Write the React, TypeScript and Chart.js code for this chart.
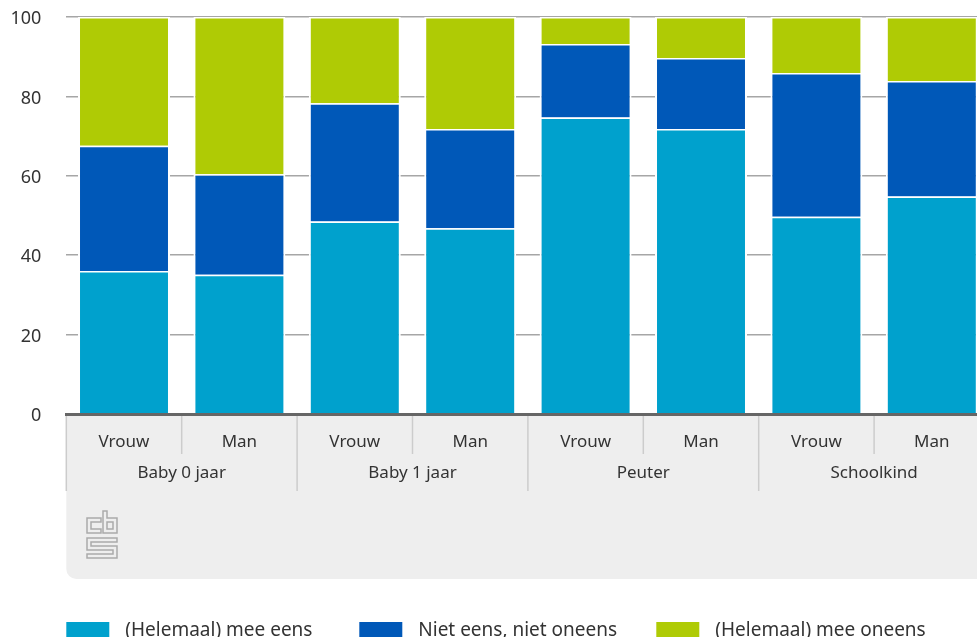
import React, { useEffect, useRef } from "react";
import { Chart, registerables } from "chart.js";

Chart.register(...registerables);

const subCategories = ["Vrouw", "Man", "Vrouw", "Man", "Vrouw", "Man", "Vrouw", "Man"];
const groups = ["Baby 0 jaar", "Baby 1 jaar", "Peuter", "Schoolkind"];
const eens = [36.0, 35.1, 48.5, 46.8, 74.7, 71.8, 49.7, 54.8];
const neutraal = [31.6, 25.3, 29.8, 25.0, 18.5, 17.9, 36.2, 29.1];
const oneens = [32.4, 39.6, 21.7, 28.2, 6.8, 10.3, 14.1, 16.1];
const seriesNames = ["(Helemaal) mee eens", "Niet eens, niet oneens", "(Helemaal) mee oneens"];
const seriesColors = ["#00a1cd", "#0058b8", "#afcb05"];
const yTicks = [0, 20, 40, 60, 80, 100];
const legendOffsets = [0, 293, 590];

const FONT = "'Noto Sans', sans-serif";
const TEXT = "#333333";

const backdrop = {
  id: "backdrop",
  beforeDraw(chart: any) {
    const { ctx, chartArea, scales } = chart;
    const x = scales.x;
    const left = chartArea.left;
    const top = chartArea.bottom + 2;
    const half = (x.getPixelForValue(1) - x.getPixelForValue(0)) / 2;
    ctx.save();
    ctx.fillStyle = "#eeeeee";
    ctx.beginPath();
    ctx.roundRect(left, top, chart.width - left + 20, 163, [0, 0, 0, 10]);
    ctx.fill();
    ctx.strokeStyle = "#cccccc";
    ctx.lineWidth = 1.5;
    subCategories.forEach((_, i) => {
      const px = x.getPixelForValue(i) - half;
      ctx.beginPath();
      ctx.moveTo(px, top);
      ctx.lineTo(px, top + (i % 2 === 0 ? 75 : 38));
      ctx.stroke();
    });
    // cbs logo
    ctx.strokeStyle = "#aaaaaa";
    ctx.lineWidth = 1.5;
    const paths = [
      [[87, 518], [101, 518], [101, 522], [91, 522], [91, 529], [101, 529], [101, 533], [87, 533]],
      [[103, 511], [107, 511], [107, 518], [117, 518], [117, 533], [103, 533]],
      [[107, 522], [113, 522], [113, 529], [107, 529]],
      [[87, 538], [117, 538], [117, 542], [91, 542], [91, 546], [117, 546], [117, 558], [87, 558], [87, 554], [113, 554], [113, 550], [87, 550]],
    ];
    paths.forEach((p) => {
      ctx.beginPath();
      p.forEach(([a, b], i) => (i ? ctx.lineTo(a, b) : ctx.moveTo(a, b)));
      ctx.closePath();
      ctx.stroke();
    });
    ctx.restore();
  },
  afterDraw(chart: any) {
    const { ctx } = chart;
    const y = 622;
    ctx.save();
    ctx.font = `19px ${FONT}`;
    ctx.textBaseline = "alphabetic";
    chart.data.datasets.forEach((d: any, i: number) => {
      const px = chart.chartArea.left + legendOffsets[i];
      ctx.fillStyle = d.backgroundColor;
      ctx.fillRect(px, y, 43, 18);
      ctx.fillStyle = TEXT;
      ctx.fillText(d.label, px + 59, y + 14);
    });
    ctx.restore();
  },
};

export default function App() {
  const ref = useRef<HTMLCanvasElement | null>(null);
  useEffect(() => {
    const chart = new Chart(ref.current!, {
      type: "bar",
      plugins: [backdrop],
      data: {
        labels: subCategories,
        datasets: [eens, neutraal, oneens].map((data, i) => ({
          label: seriesNames[i],
          data,
          backgroundColor: seriesColors[i],
          borderColor: "#ffffff",
          borderWidth: { top: 1.5, left: 2, right: 2, bottom: 0 },
          borderSkipped: false,
          categoryPercentage: 1,
          barPercentage: 0.797,
          stack: "a",
        })),
      },
      options: {
        animation: false,
        responsive: false,
        layout: { padding: { top: 17, right: 20.5, bottom: 190, left: 0 } },
        plugins: { legend: { display: false }, tooltip: { enabled: false } },
        scales: {
          x: {
            stacked: true,
            grid: { display: false },
            border: { color: "#666666", width: 3, z: 1 },
            ticks: { font: { family: FONT, size: 17 }, color: TEXT, maxRotation: 0, autoSkip: false, padding: 10 },
            afterFit(s: any) { s.height = 40; s.paddingLeft = 0; s.paddingRight = 0; },
          },
          x2: {
            type: "category",
            position: "bottom",
            labels: groups,
            offset: true,
            grid: { display: false },
            border: { display: false },
            ticks: { font: { family: FONT, size: 17 }, color: TEXT, maxRotation: 0, padding: 1 },
            afterFit(s: any) { s.height = 36; s.paddingLeft = 0; s.paddingRight = 0; },
          },
          y: {
            stacked: true,
            min: 0,
            max: 100,
            afterBuildTicks(s: any) { s.ticks = yTicks.map((value) => ({ value })); },
            grid: { color: "#a6a6a6", lineWidth: 1.5, drawTicks: false },
            border: { display: false },
            ticks: { font: { family: FONT, size: 18 }, color: TEXT, padding: 25, labelOffset: 2 },
            afterFit(s: any) { s.width = 66.3; s.paddingTop = 0; s.paddingBottom = 0; },
          },
        },
      },
    } as any);
    return () => chart.destroy();
  }, []);
  return (
    <div style={{ position: "fixed", left: 0, top: 0, width: 977, height: 637, overflow: "hidden", background: "#fff" }}>
      <canvas ref={ref} width={1010} height={680} style={{ display: "block", width: 1010, height: 680 }} />
    </div>
  );
}
